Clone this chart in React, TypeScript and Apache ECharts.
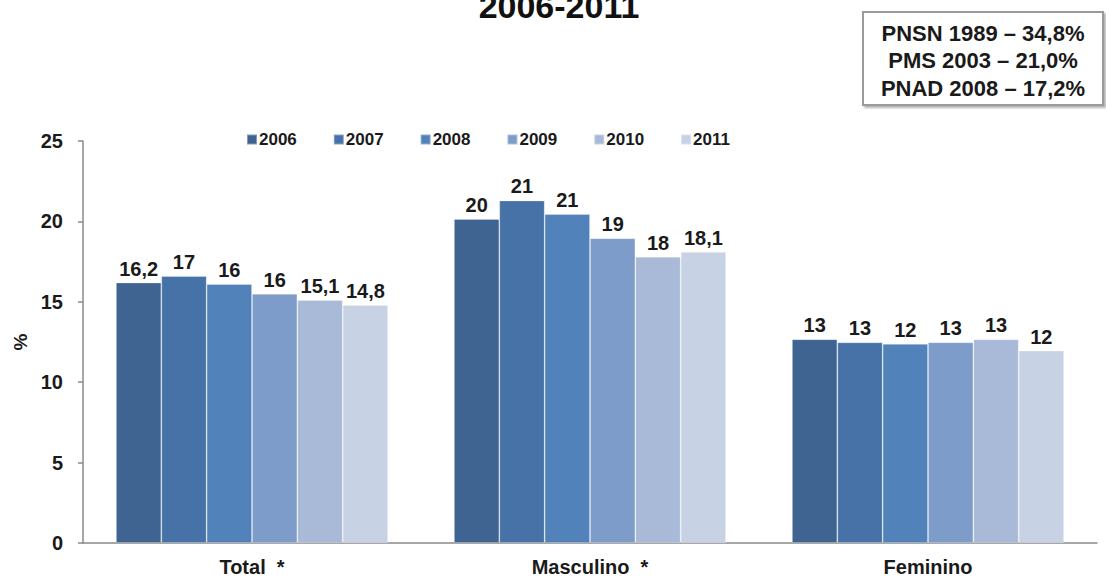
import React, { useEffect, useRef } from "react";
import * as echarts from "echarts";

const categories = ["Total  *", "Masculino  *", "Feminino"];
const years = ["2006", "2007", "2008", "2009", "2010", "2011"];
const values2006 = [16.2, 20.15, 12.67];
const values2007 = [16.6, 21.3, 12.48];
const values2008 = [16.1, 20.45, 12.38];
const values2009 = [15.5, 18.95, 12.48];
const values2010 = [15.1, 17.8, 12.67];
const values2011 = [14.8, 18.1, 11.96];
const labels2006 = ["16,2", "20", "13"];
const labels2007 = ["17", "21", "13"];
const labels2008 = ["16", "21", "12"];
const labels2009 = ["16", "19", "13"];
const labels2010 = ["15,1", "18", "13"];
const labels2011 = ["14,8", "18,1", "12"];
const colors = ["#3F6491", "#4672A8", "#5182BA", "#7D9CCA", "#A8BAD8", "#C8D2E5"];
const refLines = ["PNSN 1989 – 34,8%", "PMS 2003 – 21,0%", "PNAD 2008 – 17,2%"];
const title = "2006-2011";

const allValues = [values2006, values2007, values2008, values2009, values2010, values2011];
const allLabels = [labels2006, labels2007, labels2008, labels2009, labels2010, labels2011];

const FONT = "'Liberation Sans', Arial, sans-serif";

export default function App() {
  const ref = useRef<HTMLDivElement>(null);
  useEffect(() => {
    if (!ref.current) return;
    const chart = echarts.init(ref.current, null, { renderer: "svg" });
    const series = years.map((y, i) => ({
      name: y,
      type: "bar",
      data: allValues[i],
      barGap: "0%",
      barCategoryGap: "19.5%",
      itemStyle: { color: colors[i], borderColor: "rgba(255,255,255,0.35)", borderWidth: 0.8 },
      label: {
        show: true,
        position: "top",
        distance: 4,
        formatter: (p: any) => allLabels[i][p.dataIndex],
        fontFamily: FONT,
        fontWeight: "bold",
        fontSize: 20,
        color: "#1a1a1a",
      },
    }));
    chart.setOption({
      animation: false,
      textStyle: { fontFamily: FONT },
      grid: { left: 83, right: 9, top: 141, bottom: 36, containLabel: false },
      legend: {
        data: years,
        left: 246,
        top: 131,
        padding: 0,
        itemWidth: 10,
        itemHeight: 10,
        itemGap: 36,
        icon: "rect",
        textStyle: { fontFamily: FONT, fontWeight: "bold", fontSize: 17, color: "#1a1a1a", padding: [0, 0, 0, -3] },
      },
      xAxis: {
        type: "category",
        data: categories,
        axisLine: { lineStyle: { color: "#8a8a8a", width: 1.5 } },
        axisTick: { show: false },
        axisLabel: { fontFamily: FONT, fontWeight: "bold", fontSize: 20, color: "#1a1a1a", margin: 14 },
      },
      yAxis: {
        type: "value",
        min: 0,
        max: 25,
        interval: 5,
        name: "%",
        nameLocation: "middle",
        nameGap: 52,
        nameRotate: 90,
        nameTextStyle: { fontFamily: FONT, fontWeight: "bold", fontSize: 19, color: "#1a1a1a" },
        axisLine: { show: true, lineStyle: { color: "#8a8a8a", width: 1.5 } },
        axisTick: { show: true, length: 5, lineStyle: { color: "#8a8a8a", width: 1.5 } },
        splitLine: { show: false },
        axisLabel: { fontFamily: FONT, fontWeight: "bold", fontSize: 20, color: "#1a1a1a", margin: 20 },
      },
      graphic: [
        {
          type: "text",
          x: 559,
          y: 6,
          style: {
            text: title,
            fontFamily: FONT,
            fontWeight: "bold",
            fontSize: 34,
            fill: "#111",
            align: "center",
            verticalAlign: "middle",
          },
        },
        {
          type: "rect",
          shape: { x: 863, y: 12, width: 240, height: 93 },
          style: {
            fill: "#fff",
            stroke: "#9a9a9a",
            lineWidth: 2,
            shadowColor: "rgba(0,0,0,0.3)",
            shadowBlur: 2,
            shadowOffsetX: 2,
            shadowOffsetY: 2,
          },
        },
        ...refLines.map((t, i) => ({
          type: "text",
          x: 983,
          y: 33 + i * 27.5,
          style: {
            text: t,
            fontFamily: FONT,
            fontWeight: "bold",
            fontSize: 22,
            fill: "#1a1a1a",
            align: "center",
            verticalAlign: "middle",
          },
        })),
      ],
      series,
    });
    return () => chart.dispose();
  }, []);
  return <div ref={ref} style={{ width: 1106, height: 579, position: "absolute", left: 0, top: 0, background: "#fff" }} />;
}
